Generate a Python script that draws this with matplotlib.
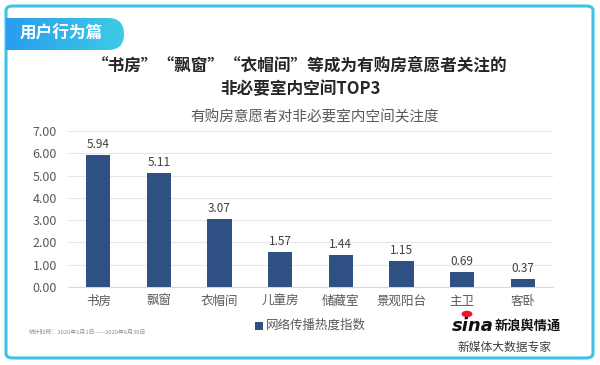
import numpy as np
import matplotlib
matplotlib.use("Agg")
import matplotlib.pyplot as plt
from matplotlib.patches import FancyBboxPatch, Rectangle, Circle

plt.rcParams['font.family'] = ['Noto Sans CJK SC', 'DejaVu Sans']

categories = ['书房', '飘窗', '衣帽间', '儿童房', '储藏室', '景观阳台', '主卫', '客卧']
values = [5.94, 5.11, 3.07, 1.57, 1.44, 1.15, 0.69, 0.37]
yticks = [0, 1, 2, 3, 4, 5, 6, 7]

W, H = 600, 365
fig = plt.figure(figsize=(6, 3.65), dpi=100)
fig.patch.set_facecolor('white')


def fx(px):
    return px / W


def fy(py):
    return 1 - py / H


# outer rounded frame
frame = FancyBboxPatch((fx(6), fy(358)), fx(587), 352 / H,
                       boxstyle="round,pad=0,rounding_size=0.012",
                       transform=fig.transFigure, facecolor='none',
                       edgecolor='#3ec3e8', linewidth=2.2, zorder=-1)
fig.patches.append(frame)

# header tab with gradient
tab_ax = fig.add_axes([fx(6), fy(50), fx(118), 32 / H])
tab_ax.set_xlim(0, 118)
tab_ax.set_ylim(0, 32)
tab_ax.axis('off')
grad = np.linspace(0, 1, 256).reshape(1, -1)
cmap = matplotlib.colors.LinearSegmentedColormap.from_list('tab', ['#2a9df0', '#3dcbe5'])
img = tab_ax.imshow(grad, aspect='auto', cmap=cmap, extent=[0, 118, 0, 32])
clip = FancyBboxPatch((-20, 0), 138, 32, boxstyle="round,pad=0,rounding_size=16",
                      transform=tab_ax.transData, facecolor='none', edgecolor='none')
tab_ax.add_patch(clip)
img.set_clip_path(clip)
tab_ax.text(14, 16, '用户行为篇', color='white', fontsize=12, fontweight='bold',
            va='center', ha='left')

# titles
fig.text(0.5, fy(66), '“书房”“飘窗”“衣帽间”等成为有购房意愿者关注的',
         ha='center', va='center', fontsize=12, fontweight='bold', color='#262626')
fig.text(0.5, fy(89), '非必要室内空间TOP3', ha='center', va='center',
         fontsize=12, fontweight='bold', color='#262626')
fig.text(fx(315), fy(117), '有购房意愿者对非必要室内空间关注度', ha='center', va='center',
         fontsize=10.5, color='#595959')

# chart
ax = fig.add_axes([fx(68), fy(287), fx(485), (287 - 131) / H])
x = np.arange(len(categories))
ax.bar(x, values, width=0.4, color='#2f5082', zorder=3)
for xi, v in zip(x, values):
    ax.text(xi, v + 0.18, f'{v:.2f}', ha='center', va='bottom', fontsize=8.5, color='#404040')
ax.set_xlim(-0.5, len(categories) - 0.5)
ax.set_ylim(0, 7)
ax.set_yticks(yticks)
ax.set_yticklabels([f'{t:.2f}' for t in yticks], fontsize=9, color='#595959')
ax.set_xticks(x)
ax.set_xticklabels(categories, fontsize=9, color='#595959')
ax.tick_params(length=0, pad=6)
ax.tick_params(axis='y', pad=8)
ax.grid(axis='y', color='#e6e6e6', linewidth=0.8, zorder=0)
for s in ['top', 'right', 'left']:
    ax.spines[s].set_visible(False)
ax.spines['bottom'].set_color('#d9d9d9')
ax.set_facecolor('none')

# legend
fig.patches.append(Rectangle((fx(255), fy(330)), fx(8), 8 / H, transform=fig.transFigure,
                             facecolor='#2f5082', edgecolor='none'))
fig.text(fx(266), fy(325), '网络传播热度指数', ha='left', va='center', fontsize=9, color='#595959')

# source note
fig.text(fx(29), fy(332), '统计时段：2020年1月1日——2020年6月30日', ha='left', va='center',
         fontsize=4.2, color='#8c8c8c')

# sina logo
fig.text(fx(452), fy(326), 'sina', ha='left', va='center', fontsize=13, fontweight='bold',
         style='italic', color='#111111', family='DejaVu Sans')
fig.patches.append(Circle((fx(467), fy(314)), 0.009, transform=fig.transFigure,
                          facecolor='#e6162d', edgecolor='none'))
fig.text(fx(495), fy(326), '新浪舆情通', ha='left', va='center', fontsize=9.5, fontweight='bold',
         color='#111111')
fig.text(fx(505), fy(347), '新媒体大数据专家', ha='center', va='center', fontsize=8.5,
         color='#404040')

fig.savefig('out.png', dpi=100)
